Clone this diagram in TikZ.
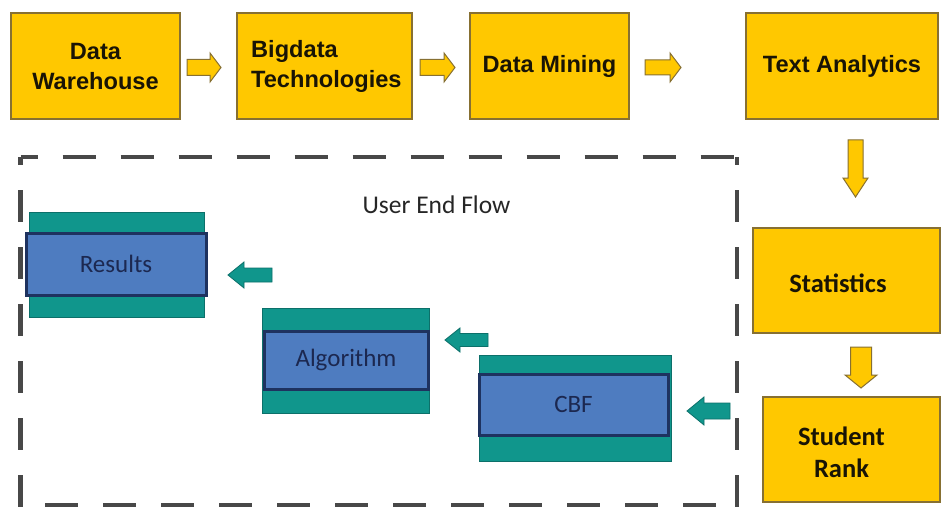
\documentclass[tikz,border=0pt]{standalone}
\usepackage{fontspec}
\setmainfont{Carlito}
\newfontfamily\arialfont{Liberation Sans}
\usetikzlibrary{calc}

\definecolor{gold}{RGB}{255,200,0}
\definecolor{goldedge}{RGB}{135,112,50}
\definecolor{tealfill}{RGB}{16,150,140}
\definecolor{tealedge}{RGB}{12,112,106}
\definecolor{bandblue}{RGB}{78,124,192}
\definecolor{navy}{RGB}{30,50,95}
\definecolor{bandtext}{RGB}{28,40,80}
\definecolor{dashgray}{RGB}{72,72,72}
\definecolor{inktext}{RGB}{25,20,5}

% block arrow: style, x, y, angle, length, shaft width, head width, head length
\newcommand\blockarrow[8]{%
  \draw[#1, shift={(#2,#3)}, rotate=#4]
    ({-#5/2},{-#6/2}) -- ({#5/2-#8},{-#6/2}) -- ({#5/2-#8},{-#7/2})
    -- ({#5/2},0) -- ({#5/2-#8},{#7/2}) -- ({#5/2-#8},{#6/2})
    -- ({-#5/2},{#6/2}) -- cycle;}

\tikzset{
  ybox/.style={draw=goldedge, line width=1.2pt, fill=gold, inner sep=0pt,
    minimum height=106pt, align=center, text=inktext},
  toptext/.style={font=\arialfont\bfseries\fontsize{23.6}{30}\selectfont},
  sidetext/.style={font=\bfseries\fontsize{26.5}{32}\selectfont, text=inktext, align=center},
  yarrow/.style={draw=goldedge, line width=1pt, fill=gold},
  tarrow/.style={draw=tealedge, line width=0.8pt, fill=tealfill},
  tealbox/.style={draw=tealedge, line width=1pt, fill=tealfill, inner sep=0pt},
  bandbox/.style={draw=navy, line width=3pt, fill=bandblue, inner sep=0pt,
    text=bandtext, font=\fontsize{25}{30}\selectfont},
  frame/.style={dashgray, line width=4.5pt}
}

\begin{document}
\begin{tikzpicture}[x=1pt, y=-1pt]
\useasboundingbox[fill=white] (0,0) rectangle (942,508);

% top row of stages
\node[ybox, toptext, minimum width=169pt] (dw) at (95.5,66) {Data\\Warehouse};
\node[ybox, minimum width=175pt] (bd) at (324.5,66) {};
\node[toptext, text=inktext, align=left, anchor=west, inner sep=0pt] (bdtext) at (251,66) {Bigdata\\Technologies};
\node[ybox, toptext, minimum width=159pt] (dm) at (549.5,66) {Data Mining};
\node[ybox, toptext, minimum width=192pt] (ta) at (842,66) {Text Analytics};

% right column
\node[ybox, minimum width=187pt, minimum height=105pt] (st) at (846.5,280.5) {};
\node[sidetext] (sttext) at (838,283) {Statistics};
\node[ybox, minimum width=177pt, minimum height=105pt] (sr) at (851.5,449.5) {};
\node[sidetext] (srtext) at (841.5,452) {Student\\Rank};

% yellow flow arrows
\blockarrow{yarrow}{204}{67.5}{0}{34}{16}{29}{11}
\blockarrow{yarrow}{437.5}{67.5}{0}{35}{16}{29}{11}
\blockarrow{yarrow}{663}{67.5}{0}{36}{15}{29}{11}
\blockarrow{yarrow}{855.5}{168.5}{-90}{57}{15}{25}{19}
\blockarrow{yarrow}{861}{367.5}{-90}{41}{21}{32}{13}

% user end flow frame
\draw[frame, dash pattern=on 33pt off 25pt, dash phase=16pt] (20.5,157) -- (737,157);
\draw[frame, dash pattern=on 32pt off 25pt, dash phase=24pt] (20.5,157) -- (20.5,508);
\draw[frame, dash pattern=on 32pt off 25pt, dash phase=24pt] (737,157) -- (737,508);
\draw[frame, dash pattern=on 33pt off 25pt, dash phase=33.5pt] (20.5,505) -- (737,505);

\node[font=\fontsize{25.5}{30}\selectfont, text=black!85] (title) at (436.5,205) {User End Flow};

% user end stages
\node[tealbox, minimum width=175pt, minimum height=105pt] (resbg) at (116.5,264.5) {};
\node[bandbox, minimum width=180pt, minimum height=62pt] (res) at (116,264) {Results};

\node[tealbox, minimum width=167pt, minimum height=105pt] (algbg) at (345.5,360.5) {};
\node[bandbox, minimum width=164pt, minimum height=58pt] (alg) at (346,360) {Algorithm};

\node[tealbox, minimum width=192pt, minimum height=106pt] (cbfbg) at (575,408) {};
\node[bandbox, minimum width=189pt, minimum height=61pt] (cbf) at (573.5,404.5) {CBF};

% teal flow arrows
\blockarrow{tarrow}{708.5}{411}{180}{43}{16}{28}{17}
\blockarrow{tarrow}{466.5}{340}{180}{43}{13}{24}{15}
\blockarrow{tarrow}{250}{275}{180}{44}{14}{26}{16}
\end{tikzpicture}
\end{document}
